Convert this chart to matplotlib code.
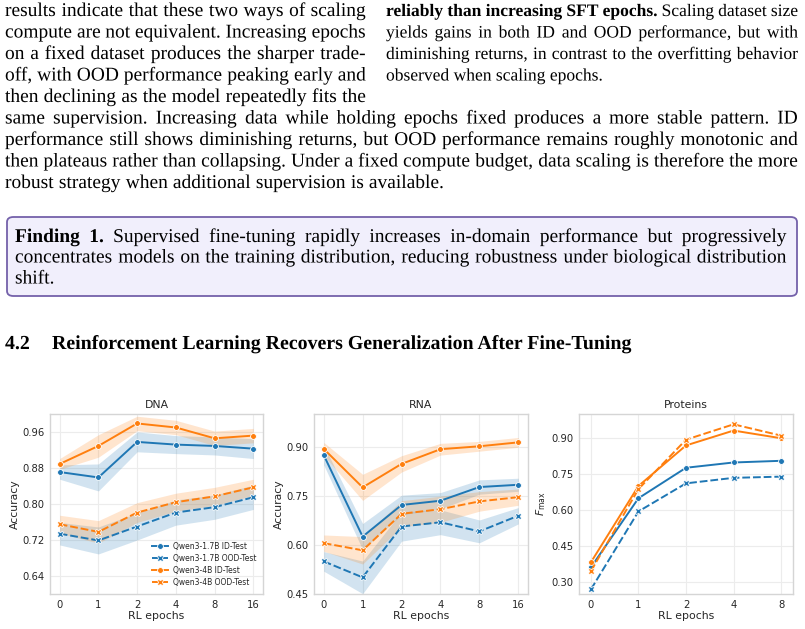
import matplotlib
matplotlib.use("Agg")
import matplotlib.pyplot as plt
from matplotlib.patches import FancyBboxPatch
import matplotlib.patheffects as pe
import numpy as np

W, H = 805, 629

# ---------------- data ----------------
dna_rna_epochs = ["0", "1", "2", "4", "8", "16"]
prot_epochs = ["0", "1", "2", "4", "8"]
series_labels = ["Qwen3-1.7B ID-Test", "Qwen3-1.7B OOD-Test",
                 "Qwen3-4B ID-Test", "Qwen3-4B OOD-Test"]

dna_17_id = [0.872, 0.860, 0.939, 0.933, 0.930, 0.924]
dna_17_ood = [0.735, 0.720, 0.751, 0.782, 0.794, 0.816]
dna_4_id = [0.890, 0.930, 0.980, 0.971, 0.947, 0.953]
dna_4_ood = [0.756, 0.739, 0.782, 0.805, 0.818, 0.838]
dna_17_id_err = [0.016, 0.030, 0.022, 0.020, 0.020, 0.022]
dna_17_ood_err = [0.025, 0.030, 0.030, 0.028, 0.027, 0.027]
dna_4_id_err = [0.012, 0.025, 0.016, 0.016, 0.016, 0.016]
dna_4_ood_err = [0.020, 0.025, 0.022, 0.020, 0.020, 0.018]

rna_17_id = [0.876, 0.626, 0.723, 0.736, 0.778, 0.785]
rna_17_ood = [0.550, 0.501, 0.657, 0.670, 0.642, 0.690]
rna_4_id = [0.895, 0.777, 0.849, 0.894, 0.903, 0.915]
rna_4_ood = [0.606, 0.584, 0.696, 0.710, 0.734, 0.747]
rna_17_id_err = [0.030, 0.040, 0.030, 0.025, 0.022, 0.020]
rna_17_ood_err = [0.030, 0.050, 0.045, 0.038, 0.035, 0.025]
rna_4_id_err = [0.020, 0.040, 0.025, 0.018, 0.015, 0.015]
rna_4_ood_err = [0.025, 0.042, 0.040, 0.040, 0.030, 0.025]

prot_17_id = [0.361, 0.649, 0.776, 0.798, 0.805]
prot_17_ood = [0.269, 0.594, 0.711, 0.734, 0.739]
prot_4_id = [0.382, 0.700, 0.869, 0.931, 0.899]
prot_4_ood = [0.345, 0.687, 0.893, 0.957, 0.910]

# ---------------- text ----------------
left_col = [
    "results indicate that these two ways of scaling",
    "compute are not equivalent. Increasing epochs",
    "on a fixed dataset produces the sharper trade-",
    "off, with OOD performance peaking early and",
    "then declining as the model repeatedly fits the",
]
right_col = [
    [("reliably than increasing SFT epochs.", "bold"), ("Scaling dataset size", "normal")],
    [("yields gains in both ID and OOD performance, but with", "normal")],
    [("diminishing returns, in contrast to the overfitting behavior", "normal")],
    [("observed when scaling epochs.", "normal")],
]
full_lines = [
    "same supervision. Increasing data while holding epochs fixed produces a more stable pattern. ID",
    "performance still shows diminishing returns, but OOD performance remains roughly monotonic and",
    "then plateaus rather than collapsing. Under a fixed compute budget, data scaling is therefore the more",
    "robust strategy when additional supervision is available.",
]
finding_lines = [
    [("Finding 1.", "bold"), ("Supervised fine-tuning rapidly increases in-domain performance but progressively", "normal")],
    [("concentrates models on the training distribution, reducing robustness under biological distribution", "normal")],
    [("shift.", "normal")],
]
heading_num = "4.2"
heading_text = "Reinforcement Learning Recovers Generalization After Fine-Tuning"

# ---------------- figure ----------------
fig = plt.figure(figsize=(W / 100, H / 100), dpi=100)
fig.patch.set_facecolor("white")
renderer = fig.canvas.get_renderer()
SERIF = "Liberation Serif"
BODY = 14.0
SMALL = 12.6
AS_PATH = [pe.Normal()]


def fx(x):
    return x / W


def fy(y):
    return 1 - y / H


def line(segs, x0, x1, yb, size=BODY, justify=True):
    words = []
    for txt, wt in segs:
        for w in txt.split(" "):
            if w:
                words.append((w, wt))
    arts = []
    widths = []
    for w, wt in words:
        t = fig.text(fx(x0), fy(yb), w, fontsize=size, family=SERIF,
                     weight=wt, va="baseline", ha="left", color="black",
                     path_effects=AS_PATH)
        arts.append(t)
        widths.append(t.get_window_extent(renderer).width)
    a = fig.text(0, 0, "a a", fontsize=size, family=SERIF)
    b = fig.text(0, 0, "aa", fontsize=size, family=SERIF)
    nat = a.get_window_extent(renderer).width - b.get_window_extent(renderer).width
    a.remove(); b.remove()
    if justify and len(words) > 1:
        sp = (x1 - x0 - sum(widths)) / (len(words) - 1)
    else:
        sp = nat
    x = x0
    for t, wd in zip(arts, widths):
        t.set_x(fx(x))
        x += wd + sp


# finding box
box = FancyBboxPatch((fx(7), fy(296)), fx(797) - fx(7), fy(217) - fy(296),
                     boxstyle="round,pad=0,rounding_size=0.008",
                     transform=fig.transFigure, facecolor="#f1effc",
                     edgecolor="#7461aa", linewidth=1.3, zorder=0)
fig.patches.append(box)

lb = [16, 37.5, 59, 80.5, 102]
for i, s in enumerate(left_col):
    line([(s, "normal")], 5, 366, lb[i])
rb = [16, 37.5, 59, 80.5]
for i, segs in enumerate(right_col):
    line(segs, 386, 798, rb[i], size=SMALL, justify=(i < len(right_col) - 1))
fb = [123.5, 145, 166.5, 188]
for i, s in enumerate(full_lines):
    line([(s, "normal")], 5, 798, fb[i], justify=(i < len(full_lines) - 1))
gb = [242, 262.5, 283.5]
for i, segs in enumerate(finding_lines):
    line(segs, 15, 787, gb[i], justify=(i < len(finding_lines) - 1))

fig.text(fx(5), fy(349), heading_num, fontsize=14.3, family=SERIF, weight="bold",
         va="baseline", path_effects=AS_PATH)
fig.text(fx(52), fy(349), heading_text, fontsize=14.3, family=SERIF, weight="bold",
         va="baseline", path_effects=AS_PATH)

# ---------------- charts ----------------
BLUE = "#1f77b4"
ORANGE = "#ff7f0e"
TXT = "#262626"


def make_ax(x0, x1, y0, y1):
    ax = fig.add_axes([fx(x0), fy(y1), fx(x1) - fx(x0), fy(y0) - fy(y1)])
    ax.set_facecolor("white")
    for s in ax.spines.values():
        s.set_color("#d5d5d5")
        s.set_linewidth(1.0)
    ax.grid(True, color="#ececec", linewidth=0.8)
    ax.set_axisbelow(True)
    ax.tick_params(length=0, labelsize=7.2, colors=TXT, pad=4)
    return ax


def plot_series(ax, labels, ys, errs, color, ood, label):
    x = np.arange(len(labels))
    ys = np.array(ys)
    if errs is not None:
        e = np.array(errs)
        ax.fill_between(x, ys - e, ys + e, color=color, alpha=0.2, linewidth=0)
    kw = dict(color=color, linewidth=1.4, markersize=4.2 if not ood else 4.4,
              markeredgecolor="white", markeredgewidth=0.6,
              marker="X" if ood else "o", label=label)
    if ood:
        kw["dashes"] = (4, 1.5)
    ax.plot(x, ys, **kw)


panels = [
    ("DNA", 50, 263, dna_rna_epochs,
     [dna_17_id, dna_17_ood, dna_4_id, dna_4_ood],
     [dna_17_id_err, dna_17_ood_err, dna_4_id_err, dna_4_ood_err],
     (0.601, 1.001), [0.64, 0.72, 0.80, 0.88, 0.96], "Accuracy"),
    ("RNA", 314, 528, dna_rna_epochs,
     [rna_17_id, rna_17_ood, rna_4_id, rna_4_ood],
     [rna_17_id_err, rna_17_ood_err, rna_4_id_err, rna_4_ood_err],
     (0.45, 1.002), [0.45, 0.60, 0.75, 0.90], "Accuracy"),
    ("Proteins", 579, 793, prot_epochs,
     [prot_17_id, prot_17_ood, prot_4_id, prot_4_ood],
     [None, None, None, None],
     (0.25, 1.0), [0.30, 0.45, 0.60, 0.75, 0.90], r"$F_{\mathrm{max}}$"),
]

for title, x0, x1, labels, series, errs, ylim, yt, ylab in panels:
    ax = make_ax(x0, x1, 414, 594)
    colors = [BLUE, BLUE, ORANGE, ORANGE]
    oods = [False, True, False, True]
    for s, e, c, o, lab in zip(series, errs, colors, oods, series_labels):
        plot_series(ax, labels, s, e, c, o, lab)
    n = len(labels)
    ax.set_xlim(-0.25, n - 1 + 0.25)
    ax.set_xticks(np.arange(n))
    ax.set_xticklabels(labels)
    ax.set_ylim(*ylim)
    ax.set_yticks(yt)
    ax.set_yticklabels([f"{v:.2f}" for v in yt])
    ax.set_title(title, fontsize=7.8, color=TXT, pad=4)
    ax.set_xlabel("RL epochs", fontsize=7.8, color=TXT, labelpad=1)
    ax.set_ylabel(ylab, fontsize=7.8, color=TXT, labelpad=2)
    if title == "DNA":
        ax.legend(loc="lower right", fontsize=5.5, frameon=False,
                  handlelength=2.1, handletextpad=0.6, labelspacing=0.42,
                  borderaxespad=0.5, labelcolor=TXT)

fig.savefig("out.png", dpi=100, facecolor="white")
